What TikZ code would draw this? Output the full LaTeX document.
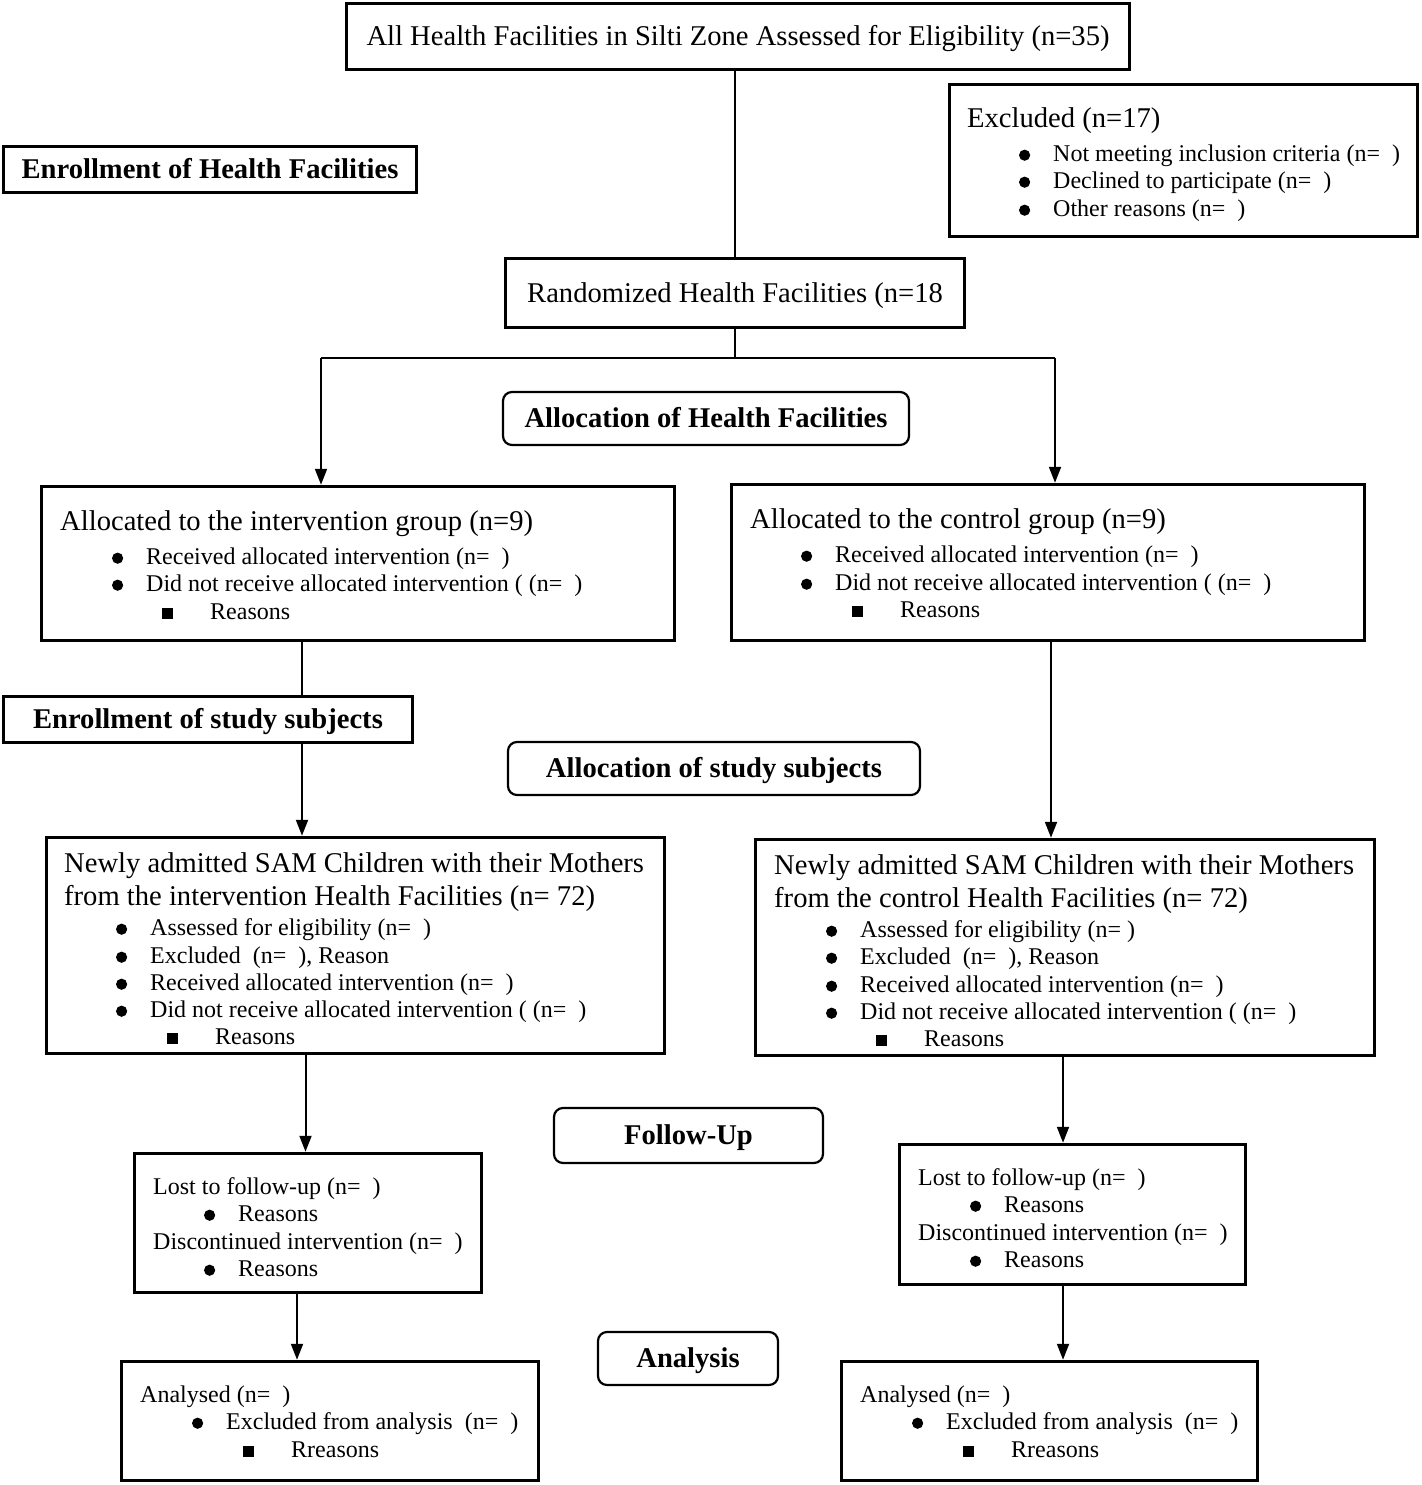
\documentclass[tikz,border=0pt]{standalone}
\usepackage{fontspec}
\setmainfont{Liberation Serif}
\usetikzlibrary{arrows.meta}

\newcommand{\dotb}{\llap{\tikz[baseline={(0pt,0pt)}]\fill (0pt,6.2pt) circle (5.6pt);\hspace{23pt}}}
\newcommand{\sqb}{\llap{\rule[0.5pt]{11pt}{11pt}\hspace{37pt}}}

\begin{document}
\begin{tikzpicture}
[
  x=1pt, y=-1pt,
  box/.style={draw, line width=3.5pt, fill=white, inner sep=0pt},
  one/.style={text height=18.9pt, text depth=0pt, font=\fontsize{28.6}{33}\selectfont},
  lbl/.style={draw, line width=3.5pt, fill=white, text height=18.9pt, text depth=0pt, font=\fontsize{28.6}{33}\selectfont\bfseries},
  rbox/.style={draw, line width=2.2pt, rounded corners=9pt, fill=white, text height=18.9pt, text depth=0pt, font=\fontsize{28.6}{33}\selectfont\bfseries},
  big/.style={anchor=base west, inner sep=0pt, yshift=-9.4pt, font=\fontsize{28.6}{33}\selectfont},
  sm/.style={anchor=base west, inner sep=0pt, yshift=-8.4pt, font=\fontsize{24}{27.5}\selectfont},
  conn/.style={line width=2pt},
  arr/.style={line width=2pt, -{Triangle[length=16pt,width=12pt]}}
]
\useasboundingbox (0,0) rectangle (1421,1485);

% top part
\node[box, one, minimum width=783, minimum height=66] (all) at (738,36.5) {All Health Facilities in Silti Zone Assessed for Eligibility (n=35)};

\node[box, minimum width=468, minimum height=152] (excl) at (1183.5,160.5) {};
\node[big] (excl0) at (967,118) {Excluded (n=17)};
\node[sm] (excl1) at (1053,153) {\dotb Not meeting inclusion criteria (n=\ \ )};
\node[sm] (excl2) at (1053,180) {\dotb Declined to participate (n=\ \ )};
\node[sm] (excl3) at (1053,208) {\dotb Other reasons (n=\ \ )};

\node[lbl, minimum width=413, minimum height=46] (enrhf) at (210,169.5) {Enrollment of Health Facilities};

\node[box, one, minimum width=459, minimum height=69] (rand) at (735,293) {Randomized Health Facilities (n=18};

\node[rbox, minimum width=406, minimum height=53] (allhf) at (706,418.5) {Allocation of Health Facilities};

% allocation of facilities
\node[box, minimum width=633, minimum height=154] (ialloc) at (358,563.5) {};
\node[big] (ia0) at (60,521) {Allocated to the intervention group (n=9)};
\node[sm] (ia1) at (146,556) {\dotb Received allocated intervention (n=\ \ )};
\node[sm] (ia2) at (146,583) {\dotb Did not receive allocated intervention ( (n=\ \ )};
\node[sm] (ia3) at (210,611) {\sqb Reasons};

\node[box, minimum width=633, minimum height=156] (calloc) at (1048,562.5) {};
\node[big] (ca0) at (750,519) {Allocated to the control group (n=9)};
\node[sm] (ca1) at (835,554) {\dotb Received allocated intervention (n=\ \ )};
\node[sm] (ca2) at (835,582) {\dotb Did not receive allocated intervention ( (n=\ \ )};
\node[sm] (ca3) at (900,609) {\sqb Reasons};

\node[rbox, minimum width=412, minimum height=53] (allss) at (714,768.5) {Allocation of study subjects};

% study subjects
\node[box, minimum width=618, minimum height=216] (inew) at (355.5,945.5) {};
\node[big] (in0) at (64,863) {Newly admitted SAM Children with their Mothers};
\node[big] (in1) at (64,896) {from the intervention Health Facilities (n= 72)};
\node[sm] (in2) at (150,927) {\dotb Assessed for eligibility (n=\ \ )};
\node[sm] (in3) at (150,955) {\dotb Excluded\ \ (n=\ \ ), Reason};
\node[sm] (in4) at (150,982) {\dotb Received allocated intervention (n=\ \ )};
\node[sm] (in5) at (150,1009) {\dotb Did not receive allocated intervention ( (n=\ \ )};
\node[sm] (in6) at (215,1036) {\sqb Reasons};

\node[box, minimum width=619, minimum height=216] (cnew) at (1065,947.5) {};
\node[big] (cn0) at (774,865) {Newly admitted SAM Children with their Mothers};
\node[big] (cn1) at (774,898) {from the control Health Facilities (n= 72)};
\node[sm] (cn2) at (860,929) {\dotb Assessed for eligibility (n= )};
\node[sm] (cn3) at (860,956) {\dotb Excluded\ \ (n=\ \ ), Reason};
\node[sm] (cn4) at (860,984) {\dotb Received allocated intervention (n=\ \ )};
\node[sm] (cn5) at (860,1011) {\dotb Did not receive allocated intervention ( (n=\ \ )};
\node[sm] (cn6) at (924,1038) {\sqb Reasons};

\node[rbox, minimum width=269, minimum height=55] (fu) at (688.5,1135.5) {Follow-Up};

% follow-up
\node[box, minimum width=347, minimum height=139] (ilost) at (308,1223) {};
\node[sm] (il0) at (153,1186) {Lost to follow-up (n=\ \ )};
\node[sm] (il1) at (238,1213) {\dotb Reasons};
\node[sm] (il2) at (153,1241) {Discontinued intervention (n=\ \ )};
\node[sm] (il3) at (238,1268) {\dotb Reasons};

\node[box, minimum width=346, minimum height=140] (clost) at (1072.5,1214.5) {};
\node[sm] (cl0) at (918,1177) {Lost to follow-up (n=\ \ )};
\node[sm] (cl1) at (1004,1204) {\dotb Reasons};
\node[sm] (cl2) at (918,1232) {Discontinued intervention (n=\ \ )};
\node[sm] (cl3) at (1004,1259) {\dotb Reasons};

\node[rbox, minimum width=180, minimum height=53] (an) at (688,1358.5) {Analysis};

% analysis
\node[box, minimum width=417, minimum height=119] (ian) at (330,1421) {};
\node[sm] (ian0) at (140,1394) {Analysed (n=\ \ )};
\node[sm] (ian1) at (226,1421) {\dotb Excluded from analysis\ \ (n=\ \ )};
\node[sm] (ian2) at (291,1449) {\sqb Rreasons};

\node[box, minimum width=416, minimum height=119] (can) at (1049.5,1421) {};
\node[sm] (can0) at (860,1394) {Analysed (n=\ \ )};
\node[sm] (can1) at (946,1421) {\dotb Excluded from analysis\ \ (n=\ \ )};
\node[sm] (can2) at (1011,1449) {\sqb Rreasons};

% connectors
\coordinate (sl) at (321,358);
\coordinate (sr) at (1055,358);
\draw[conn] (rand.north) -- (rand.north |- all.south);
\draw[conn] (rand.south) -- (rand.south |- sl);
\draw[conn] (sl) -- (sr);
\draw[arr] (sl) -- (sl |- ialloc.north);
\draw[arr] (sr) -- (sr |- calloc.north);

\draw[arr] ([xshift=-56pt]ialloc.south) -- ([xshift=-56pt]ialloc.south |- inew.north);
\draw[arr] ([xshift=3pt]calloc.south) -- ([xshift=3pt]calloc.south |- cnew.north);
\draw[arr] ([xshift=-50pt]inew.south) -- ([xshift=-50pt]inew.south |- ilost.north);
\draw[arr] ([xshift=-2pt]cnew.south) -- ([xshift=-2pt]cnew.south |- clost.north);
\draw[arr] ([xshift=-11pt]ilost.south) -- ([xshift=-11pt]ilost.south |- ian.north);
\draw[arr] ([xshift=-9.5pt]clost.south) -- ([xshift=-9.5pt]clost.south |- can.north);

\node[lbl, minimum width=409, minimum height=46] (enrss) at (208,719.5) {Enrollment of study subjects};
\end{tikzpicture}
\end{document}
